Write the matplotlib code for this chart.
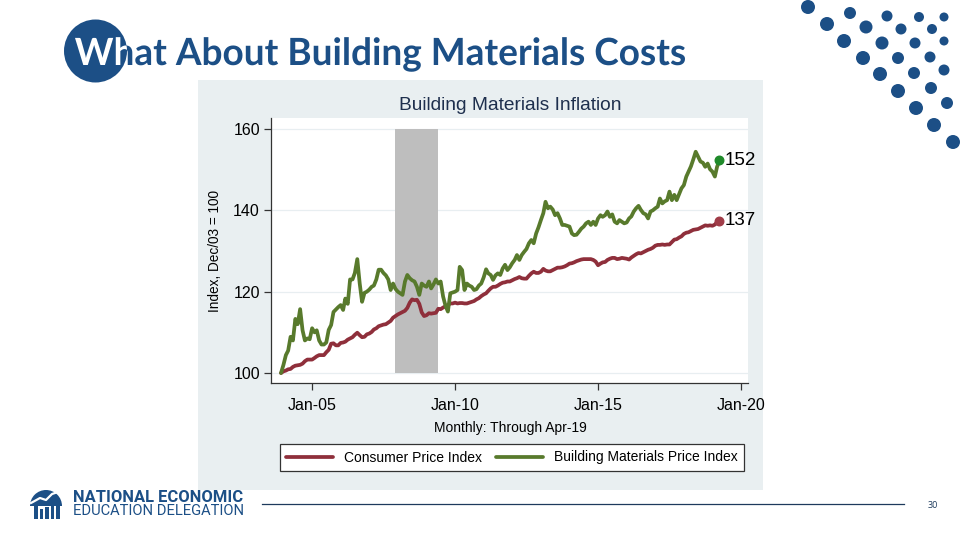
import matplotlib
matplotlib.use("Agg")
import matplotlib.pyplot as plt
from matplotlib.patches import Circle, Rectangle, Wedge, PathPatch
from matplotlib.textpath import TextPath
from matplotlib.font_manager import FontProperties
from matplotlib.transforms import Affine2D
import pandas as pd
from datetime import datetime

# ---------------- data ----------------
months = pd.date_range("2003-12-01", "2019-04-01", freq="MS")

cpi = [100.0,
       100.4, 100.6, 100.9, 101.0, 101.5, 101.8, 101.9, 102.0, 102.3, 102.9, 103.3, 103.3,
       103.3, 103.7, 104.1, 104.4, 104.4, 104.4, 105.1, 105.7, 107.2, 107.3, 106.8, 106.8,
       107.4, 107.5, 107.7, 108.2, 108.5, 108.8, 109.4, 109.9, 109.3, 108.8, 108.9, 109.5,
       109.7, 110.1, 110.7, 111.0, 111.5, 111.7, 111.9, 112.0, 112.4, 112.8, 113.6, 114.0,
       114.4, 114.7, 115.0, 115.3, 116.0, 117.3, 118.1, 117.9, 118.0, 117.0, 114.9, 114.0,
       114.2, 114.7, 114.6, 114.7, 114.8, 115.8, 115.7, 116.1, 116.4, 116.7, 117.1, 117.1,
       117.3, 117.1, 117.2, 117.2, 117.1, 117.1, 117.3, 117.5, 117.7, 118.1, 118.4, 118.9,
       119.3, 119.6, 120.2, 120.8, 121.2, 121.2, 121.5, 121.9, 122.2, 122.3, 122.5, 122.5,
       122.8, 123.1, 123.3, 123.6, 123.3, 123.2, 123.2, 123.9, 124.5, 124.9, 124.6, 124.6,
       124.9, 125.6, 125.2, 125.0, 125.0, 125.3, 125.6, 125.9, 125.9, 126.0, 126.2, 126.5,
       126.9, 127.0, 127.2, 127.5, 127.7, 127.9, 128.0, 128.0, 128.0, 128.0, 127.8, 127.4,
       126.5, 126.9, 127.2, 127.3, 127.8, 128.1, 128.3, 128.3, 128.0, 128.1, 128.3, 128.2,
       128.1, 127.9, 128.4, 128.8, 129.2, 129.5, 129.4, 129.7, 130.0, 130.3, 130.5, 130.8,
       131.3, 131.5, 131.5, 131.6, 131.5, 131.6, 131.6, 132.2, 132.8, 132.9, 133.3, 133.6,
       134.2, 134.5, 134.6, 134.9, 135.2, 135.3, 135.4, 135.7, 136.0, 136.3, 136.2, 136.3,
       136.2, 136.5, 137.1, 137.4]

bmpi = [100.0,
        102.0, 104.4, 105.5, 108.9, 108.0, 113.3, 112.0, 115.7, 110.5, 108.0, 108.5, 108.3,
        111.0, 110.0, 110.5, 108.0, 107.0, 107.0, 107.5, 110.6, 111.8, 115.0, 115.6, 116.2,
        116.7, 115.5, 118.3, 117.0, 123.0, 123.0, 124.6, 128.0, 122.0, 117.5, 119.7, 120.0,
        120.5, 121.2, 121.5, 123.0, 125.4, 125.4, 124.6, 124.0, 123.0, 120.4, 122.0, 120.7,
        120.0, 119.6, 119.2, 122.5, 124.1, 123.3, 122.8, 122.5, 121.2, 119.2, 122.0, 121.5,
        121.2, 122.5, 120.8, 121.8, 123.0, 122.0, 122.5, 118.8, 116.5, 115.1, 119.6, 119.8,
        120.0, 120.4, 126.1, 125.3, 120.4, 122.0, 121.5, 121.2, 120.4, 120.6, 121.5, 122.0,
        123.5, 125.5, 124.5, 124.1, 122.9, 124.0, 124.5, 124.1, 125.7, 126.6, 125.3, 126.0,
        127.0, 127.8, 129.0, 127.8, 129.0, 129.8, 130.5, 131.9, 132.7, 131.9, 134.3, 135.8,
        137.6, 139.3, 142.1, 140.5, 140.9, 140.2, 138.8, 139.3, 138.0, 136.4, 136.4, 136.2,
        136.0, 134.3, 133.9, 134.0, 134.7, 135.5, 136.0, 136.8, 137.2, 136.4, 137.2, 136.4,
        138.0, 138.8, 138.4, 138.8, 139.7, 138.4, 139.0, 137.2, 136.8, 137.6, 137.2, 136.8,
        137.0, 138.0, 138.5, 139.7, 140.5, 141.1, 140.1, 139.3, 139.0, 138.0, 139.7, 140.0,
        140.5, 140.9, 142.9, 141.7, 142.2, 142.5, 144.6, 142.5, 143.8, 142.5, 144.0, 145.4,
        146.2, 148.3, 149.5, 150.8, 152.5, 154.4, 153.2, 152.0, 151.7, 150.7, 151.5, 150.1,
        149.5, 148.3, 150.7, 152.3]

recession = [datetime(2007, 12, 1), datetime(2009, 6, 1)]
recession_range = [100, 160]
x_tick_dates = [datetime(2005, 1, 1), datetime(2010, 1, 1), datetime(2015, 1, 1), datetime(2020, 1, 1)]
x_tick_labels = ["Jan-05", "Jan-10", "Jan-15", "Jan-20"]
y_ticks = [100, 120, 140, 160]
series_names = ["Consumer Price Index", "Building Materials Price Index"]

slide_title = "What About Building Materials Costs"
chart_title = "Building Materials Inflation"
y_label = "Index, Dec/03 = 100"
x_label = "Monthly: Through Apr-19"
org_lines = ["NATIONAL ECONOMIC", "EDUCATION DELEGATION"]
page_number = "30"

# ---------------- style ----------------
NAVY = "#1c4f86"
RED = "#8f2f3b"
GREEN = "#587a2c"
CHART_BG = "#e9eff1"
FONT = "Liberation Sans"

fig = plt.figure(figsize=(9.6, 5.4), dpi=100)
fig.patch.set_facecolor("white")

# overlay axes in pixel coordinates for slide decoration
deco = fig.add_axes([0, 0, 1, 1], zorder=0)
deco.set_xlim(0, 960)
deco.set_ylim(540, 0)
deco.axis("off")


def fit_width(t, target):
    fig.canvas.draw()
    w = t.get_window_extent().width
    t.set_fontsize(t.get_fontsize() * target / w)


# chart image background
deco.add_patch(Rectangle((198, 80), 565, 410, facecolor=CHART_BG, edgecolor="none"))

# title with circle (white part of the text clipped to the circle)
circ = Circle((95.5, 51), 31.5, facecolor=NAVY, edgecolor="none", zorder=2)
deco.add_patch(circ)
tp = TextPath((0, 0), slide_title, size=37.5, prop=FontProperties(family="Lato", weight="bold"))
ext = tp.get_extents()
sx = 610.0 / ext.width
tr = Affine2D().translate(-ext.x0, 0).scale(sx, -1).translate(75, 65) + deco.transData
deco.add_patch(PathPatch(tp, transform=tr, facecolor=NAVY, edgecolor="none", zorder=3))
white_part = PathPatch(tp, transform=tr, facecolor="white", edgecolor="none", zorder=4)
deco.add_patch(white_part)
white_part.set_clip_path(circ)

# decorative dots (top right)
dots = [(808, 7, 7), (850, 13, 6), (887, 16, 5.5), (919, 17, 5), (944, 17, 4.5),
        (827, 24, 7), (866, 27, 6.5), (901, 29, 5.5), (932, 29, 5),
        (844, 41, 7), (882, 43, 6.5), (915, 43, 5.5), (944, 41, 4.5),
        (863, 58, 7), (898, 58, 6), (930, 57, 5.5),
        (880, 74, 7), (914, 73, 6), (944, 70, 5.5),
        (898, 91, 7), (931, 88, 6),
        (916, 108, 7), (947, 103, 6),
        (934, 125, 7), (953, 142, 7)]
for dx, dy, r in dots:
    deco.add_patch(Circle((dx, dy), r, facecolor=NAVY, edgecolor="none"))

# logo
deco.add_patch(Wedge((46, 506), 16, 180, 360, facecolor=NAVY, edgecolor="none"))
for bx, top in [(34, 506), (39.5, 509), (45, 507), (50.5, 505), (56, 503)]:
    deco.add_patch(Rectangle((bx, top), 3.5, 519 - top, facecolor=NAVY, edgecolor="none"))
deco.plot([31, 40, 46, 52, 61], [503, 498, 500, 494, 491], color="white", lw=1.6)
o1 = deco.text(73, 497, org_lines[0], fontsize=10, fontweight="semibold", family="Roboto",
               color=NAVY, va="center", ha="left")
fit_width(o1, 170)
o2 = deco.text(73, 511, org_lines[1], fontsize=10, fontweight="normal", family="Roboto",
               color=NAVY, va="center", ha="left")
fit_width(o2, 170)
deco.plot([262, 904], [504, 504], color="#1d3a5c", lw=0.9)
deco.text(933, 506, page_number, fontsize=6.5, color="#1d3a5c", ha="center", va="center",
          family="Open Sans")

# ---------------- chart ----------------
ax = fig.add_axes([271 / 960, 1 - 383 / 540, (748 - 271) / 960, (383 - 118) / 540], zorder=2)
ax.set_facecolor("white")
ax.set_xlim(datetime(2003, 7, 26), datetime(2020, 3, 30))
ax.set_ylim(97.54, 162.7)

ax.fill_between(recession, recession_range[0], recession_range[1], color="#bebebe",
                linewidth=0, zorder=1)
ax.plot(months, cpi, color=RED, lw=2.7, zorder=3, solid_capstyle="round", label=series_names[0])
ax.plot(months, bmpi, color=GREEN, lw=2.7, zorder=3, solid_capstyle="round", label=series_names[1])
ax.scatter([months[-1]], [bmpi[-1]], s=38, color="#1f8a2a", zorder=4)
ax.scatter([months[-1]], [cpi[-1]], s=38, color="#a03c48", zorder=4)
for v in (bmpi[-1], cpi[-1]):
    ax.annotate(f"{int(v)}", (months[-1], v), xytext=(4, 0), textcoords="offset points",
                fontsize=13.5, family=FONT, va="center", ha="left", color="black",
                annotation_clip=False)

ax.set_yticks(y_ticks)
ax.set_xticks(x_tick_dates)
ax.set_xticklabels(x_tick_labels)
ax.tick_params(axis="both", labelsize=11.5, direction="out", length=5, width=0.9,
               color="#333333", labelcolor="black", pad=3)
for lab in ax.get_xticklabels() + ax.get_yticklabels():
    lab.set_family(FONT)
ax.tick_params(axis="x", pad=6)
ax.grid(axis="y", color="#e8eef1", lw=0.9, zorder=0)
ax.set_axisbelow(True)
for s in ("top", "right"):
    ax.spines[s].set_visible(False)
for s in ("left", "bottom"):
    ax.spines[s].set_color("#333333")
    ax.spines[s].set_linewidth(0.9)

ax.set_ylabel(y_label, fontsize=9.8, family=FONT, labelpad=8)
fig.text(510 / 960, 1 - 428 / 540, x_label, fontsize=10, family=FONT, ha="center", va="center")
fig.text(510 / 960, 1 - 106 / 540, chart_title, fontsize=13.8, family=FONT, color="#1e2f4d",
         ha="center", va="center")

leg = fig.legend(loc="center", bbox_to_anchor=(512 / 960, 1 - 457.5 / 540), ncol=2,
                 prop={"family": FONT, "size": 10}, frameon=True, fancybox=False,
                 edgecolor="#333333", facecolor="white", framealpha=1, handlelength=3.4,
                 handletextpad=0.8, columnspacing=1.0, borderpad=0.45)
leg.get_frame().set_linewidth(0.9)
leg.set_zorder(5)

fig.savefig("out.png", dpi=100)
